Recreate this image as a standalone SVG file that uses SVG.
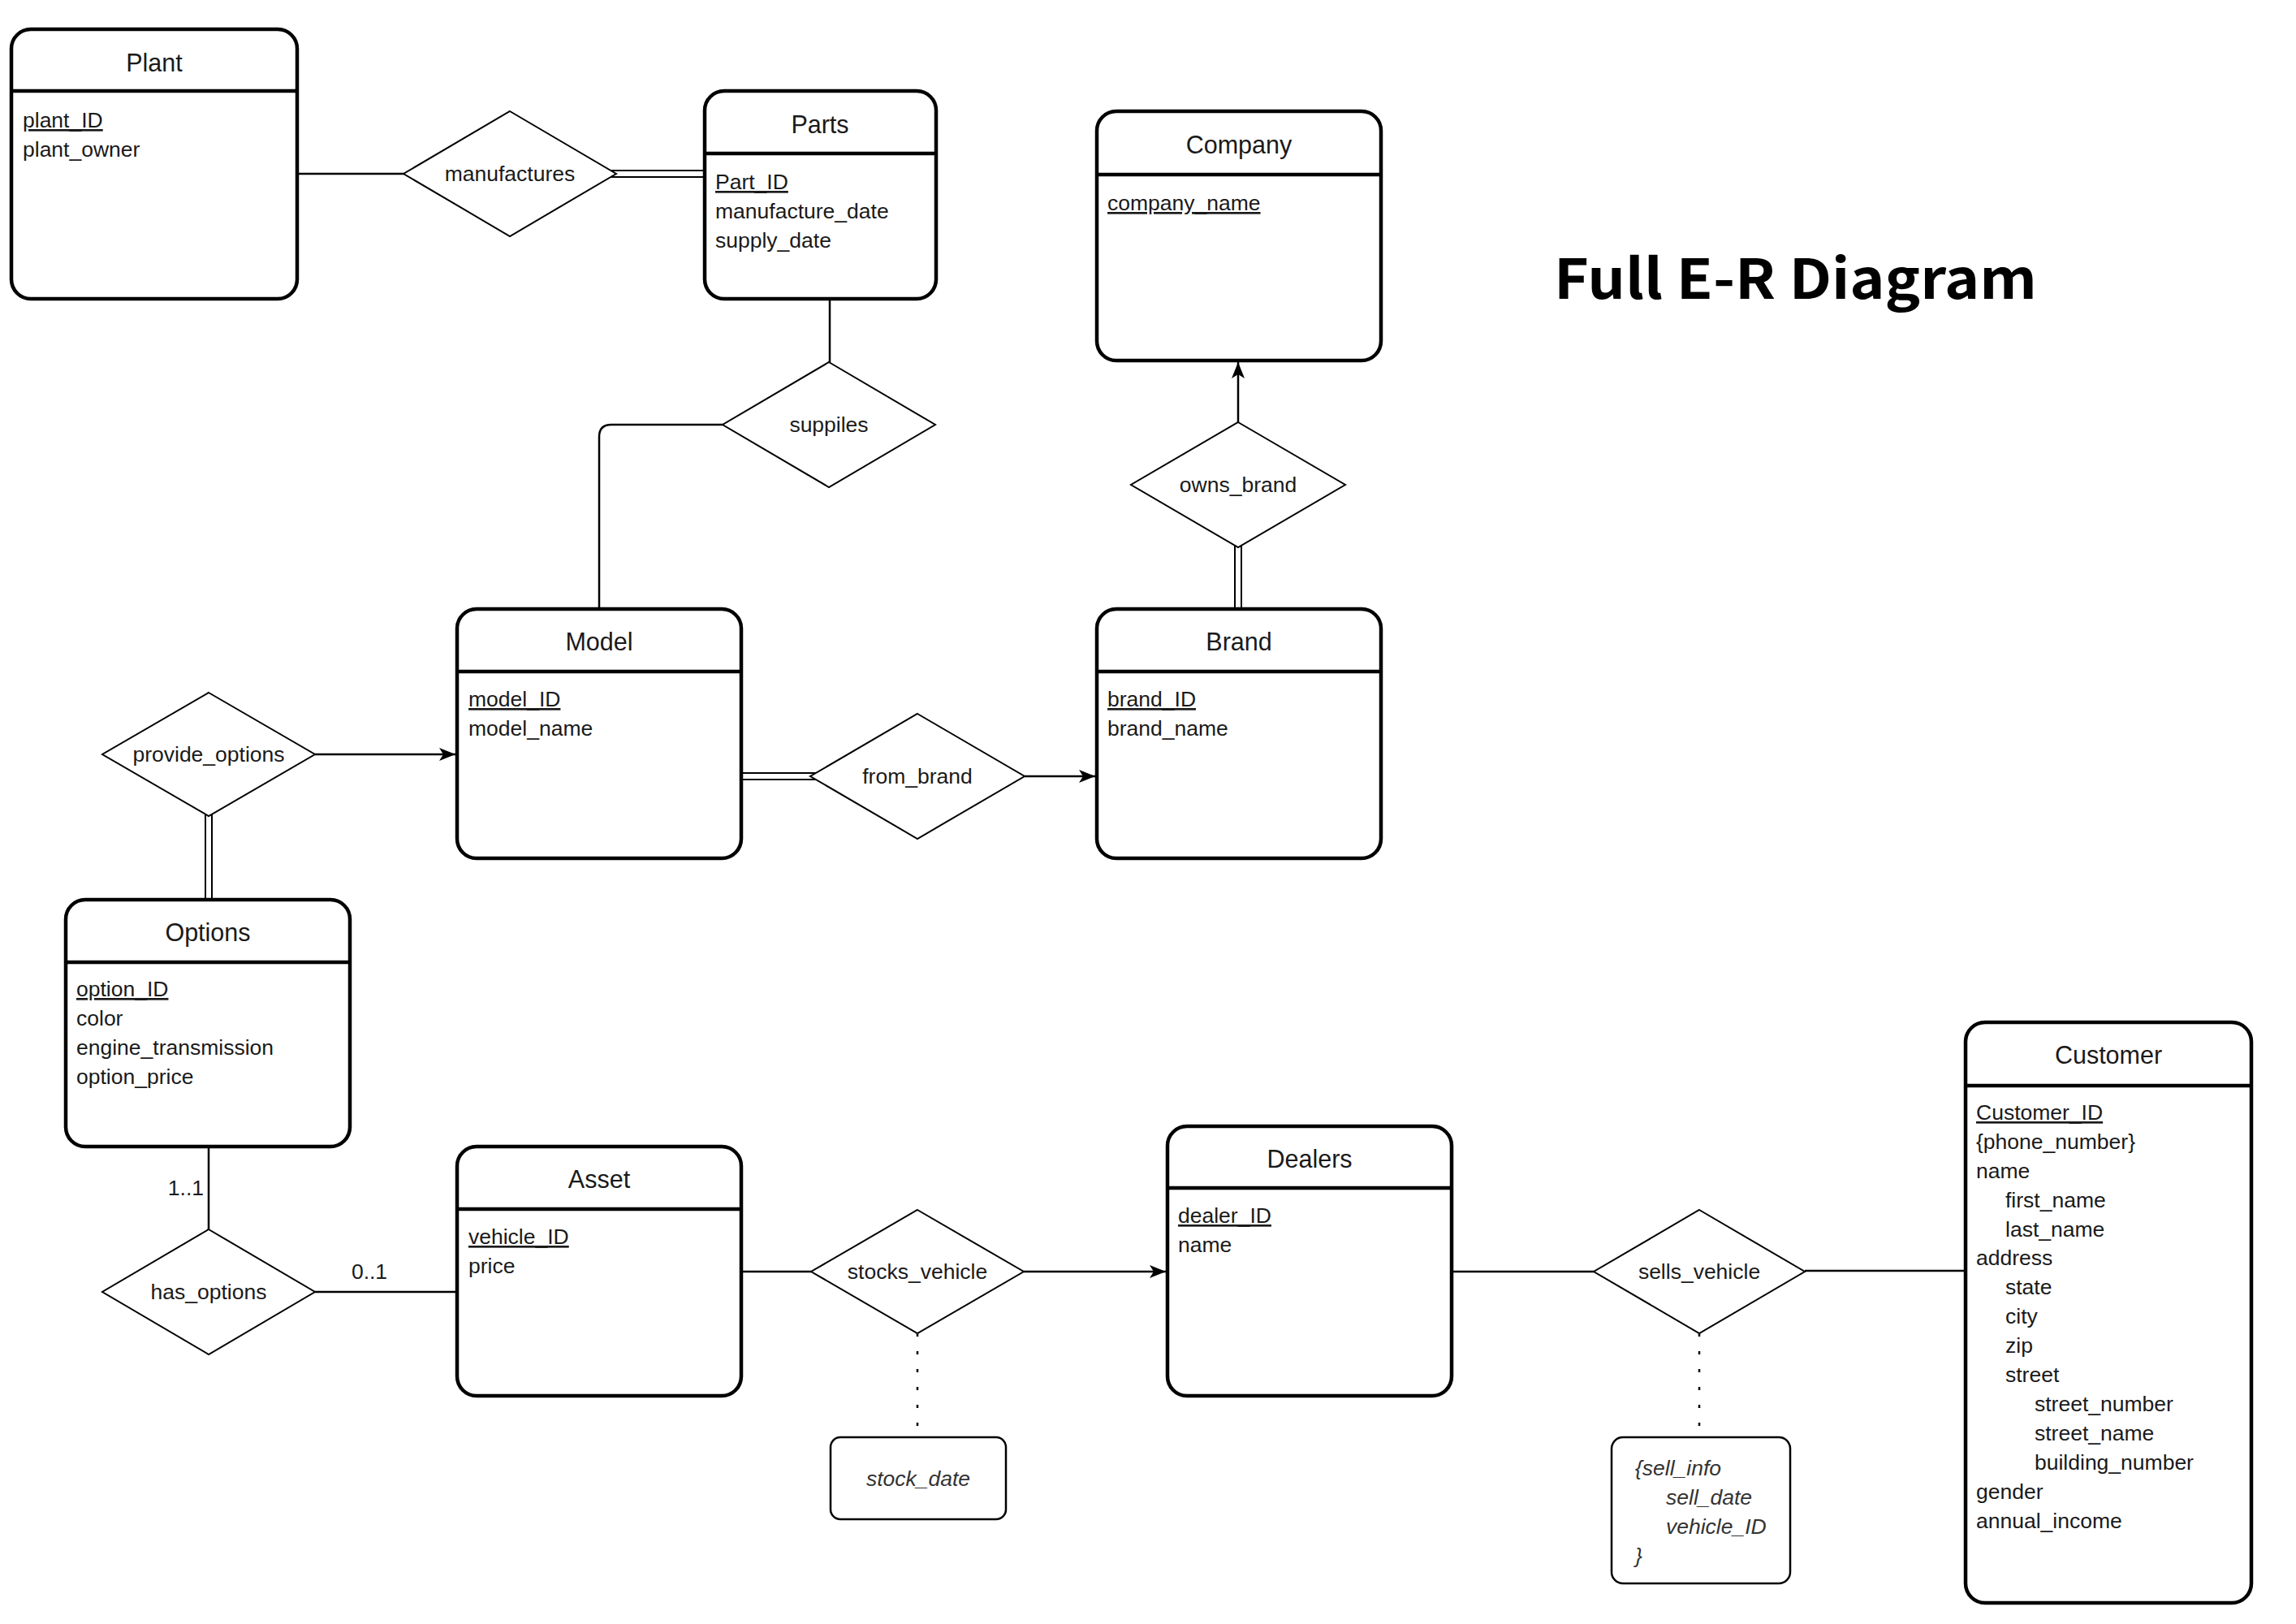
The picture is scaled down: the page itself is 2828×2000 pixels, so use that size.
<svg xmlns="http://www.w3.org/2000/svg" width="2828" height="2000" viewBox="0 0 2828 2000">
<style>
.box{fill:#fff;stroke:#000;stroke-width:4.5}
.dv{stroke:#000;stroke-width:4.5}
.rel{fill:#fff;stroke:#000;stroke-width:2}
.small{fill:#fff;stroke:#000;stroke-width:2.5}
.t{font-family:"Liberation Sans",Arial,sans-serif;font-size:30.5px;fill:#1a1a1a;text-anchor:middle}
.a{font-family:"Liberation Sans",Arial,sans-serif;font-size:26.5px;fill:#1a1a1a}
.pk{text-decoration:underline}
.m{text-anchor:middle}
.i{font-style:italic;fill:#333}
.c{stroke:#000;stroke-width:2.5;fill:none}
.d{stroke:#000;stroke-width:2;fill:none}
.dot{stroke:#000;stroke-width:2.5;fill:none;stroke-dasharray:4 18}
.ttl{font-family:"Noto Sans CJK KR","Noto Sans",sans-serif;font-weight:bold;font-size:68px;fill:#000}
</style>
<defs>
<marker id="arr" markerUnits="userSpaceOnUse" markerWidth="22" markerHeight="18" refX="20" refY="8" orient="auto">
<path d="M0,0 L20,8 L0,16 L5,8 z" fill="#000"/>
</marker>
</defs>
<rect width="2828" height="2000" fill="#fff"/>

<g id="connectors">
<line class="c" x1="366" y1="214" x2="497" y2="214"/>
<line class="d" x1="752" y1="210" x2="868" y2="210"/>
<line class="d" x1="752" y1="218" x2="868" y2="218"/>
<line class="c" x1="1022" y1="368" x2="1022" y2="446"/>
<path class="c" d="M890,523 L753,523 Q738,523 738,538 L738,750"/>
<line class="c" x1="1525" y1="520" x2="1525" y2="446" marker-end="url(#arr)"/>
<line class="d" x1="1521" y1="667" x2="1521" y2="750"/>
<line class="d" x1="1529" y1="667" x2="1529" y2="750"/>
<line class="c" x1="388" y1="929" x2="561" y2="929" marker-end="url(#arr)"/>
<line class="d" x1="253" y1="998" x2="253" y2="1108"/>
<line class="d" x1="261" y1="998" x2="261" y2="1108"/>
<line class="d" x1="913" y1="952" x2="1005" y2="952"/>
<line class="d" x1="913" y1="960" x2="1005" y2="960"/>
<line class="c" x1="1262" y1="956" x2="1349" y2="956" marker-end="url(#arr)"/>
<line class="c" x1="257" y1="1412" x2="257" y2="1514"/>
<text class="a" x="251" y="1472" text-anchor="end">1..1</text>
<line class="c" x1="388" y1="1591" x2="563" y2="1591"/>
<text class="a m" x="455" y="1575">0..1</text>
<line class="c" x1="913" y1="1566" x2="999" y2="1566"/>
<line class="c" x1="1261" y1="1566" x2="1436" y2="1566" marker-end="url(#arr)"/>
<line class="dot" x1="1130" y1="1642" x2="1130" y2="1770"/>
<line class="c" x1="1788" y1="1566" x2="1963" y2="1566"/>
<line class="c" x1="2223" y1="1565" x2="2421" y2="1565" stroke="#555"/>
<line class="dot" x1="2093" y1="1642" x2="2093" y2="1770"/>
</g>

<g id="plant">
<rect class="box" x="14" y="36" width="352" height="332" rx="24"/>
<line class="dv" x1="14" y1="112" x2="366" y2="112"/>
<text class="t" x="190" y="88">Plant</text>
<text class="a pk" x="28" y="157">plant_ID</text>
<text class="a" x="28" y="193">plant_owner</text>
</g>

<g id="parts">
<rect class="box" x="868" y="112" width="285" height="256" rx="24"/>
<line class="dv" x1="868" y1="189" x2="1153" y2="189"/>
<text class="t" x="1010" y="164">Parts</text>
<text class="a pk" x="881" y="233">Part_ID</text>
<text class="a" x="881" y="269">manufacture_date</text>
<text class="a" x="881" y="305">supply_date</text>
</g>

<g id="company">
<rect class="box" x="1351" y="137" width="350" height="307" rx="24"/>
<line class="dv" x1="1351" y1="215" x2="1701" y2="215"/>
<text class="t" x="1526" y="189">Company</text>
<text class="a pk" x="1364" y="259">company_name</text>
</g>

<g id="model">
<rect class="box" x="563" y="750" width="350" height="307" rx="24"/>
<line class="dv" x1="563" y1="827" x2="913" y2="827"/>
<text class="t" x="738" y="801">Model</text>
<text class="a pk" x="577" y="870">model_ID</text>
<text class="a" x="577" y="906">model_name</text>
</g>

<g id="brand">
<rect class="box" x="1351" y="750" width="350" height="307" rx="24"/>
<line class="dv" x1="1351" y1="827" x2="1701" y2="827"/>
<text class="t" x="1526" y="801">Brand</text>
<text class="a pk" x="1364" y="870">brand_ID</text>
<text class="a" x="1364" y="906">brand_name</text>
</g>

<g id="options">
<rect class="box" x="81" y="1108" width="350" height="304" rx="24"/>
<line class="dv" x1="81" y1="1185" x2="431" y2="1185"/>
<text class="t" x="256" y="1159">Options</text>
<text class="a pk" x="94" y="1227">option_ID</text>
<text class="a" x="94" y="1263">color</text>
<text class="a" x="94" y="1299">engine_transmission</text>
<text class="a" x="94" y="1335">option_price</text>
</g>

<g id="asset">
<rect class="box" x="563" y="1412" width="350" height="307" rx="24"/>
<line class="dv" x1="563" y1="1489" x2="913" y2="1489"/>
<text class="t" x="738" y="1463">Asset</text>
<text class="a pk" x="577" y="1532">vehicle_ID</text>
<text class="a" x="577" y="1568">price</text>
</g>

<g id="dealers">
<rect class="box" x="1438" y="1387" width="350" height="332" rx="24"/>
<line class="dv" x1="1438" y1="1463" x2="1788" y2="1463"/>
<text class="t" x="1613" y="1438">Dealers</text>
<text class="a pk" x="1451" y="1506">dealer_ID</text>
<text class="a" x="1451" y="1542">name</text>
</g>

<g id="customer">
<rect class="box" x="2421" y="1259" width="352" height="715" rx="24"/>
<line class="dv" x1="2421" y1="1337" x2="2773" y2="1337"/>
<text class="t" x="2597" y="1310">Customer</text>
<text class="a pk" x="2434" y="1379">Customer_ID</text>
<text class="a" x="2434" y="1415">{phone_number}</text>
<text class="a" x="2434" y="1451">name</text>
<text class="a" x="2470" y="1487">first_name</text>
<text class="a" x="2470" y="1523">last_name</text>
<text class="a" x="2434" y="1558">address</text>
<text class="a" x="2470" y="1594">state</text>
<text class="a" x="2470" y="1630">city</text>
<text class="a" x="2470" y="1666">zip</text>
<text class="a" x="2470" y="1702">street</text>
<text class="a" x="2506" y="1738">street_number</text>
<text class="a" x="2506" y="1774">street_name</text>
<text class="a" x="2506" y="1810">building_number</text>
<text class="a" x="2434" y="1846">gender</text>
<text class="a" x="2434" y="1882">annual_income</text>
</g>

<g id="manufactures">
<polygon class="rel" points="628,137 759,214 628,291 497,214"/>
<text class="a m" x="628" y="223">manufactures</text>
</g>
<g id="suppiles">
<polygon class="rel" points="1021,446 1152,523 1021,600 890,523"/>
<text class="a m" x="1021" y="532">suppiles</text>
</g>
<g id="owns_brand">
<polygon class="rel" points="1525,520 1657,597 1525,674 1393,597"/>
<text class="a m" x="1525" y="606">owns_brand</text>
</g>
<g id="provide_options">
<polygon class="rel" points="257,853 388,929 257,1005 126,929"/>
<text class="a m" x="257" y="938">provide_options</text>
</g>
<g id="from_brand">
<polygon class="rel" points="1130,879 1262,956 1130,1033 998,956"/>
<text class="a m" x="1130" y="965">from_brand</text>
</g>
<g id="has_options">
<polygon class="rel" points="257,1514 388,1591 257,1668 126,1591"/>
<text class="a m" x="257" y="1600">has_options</text>
</g>
<g id="stocks_vehicle">
<polygon class="rel" points="1130,1490 1261,1566 1130,1642 999,1566"/>
<text class="a m" x="1130" y="1575">stocks_vehicle</text>
</g>
<g id="sells_vehicle">
<polygon class="rel" points="2093,1490 2223,1566 2093,1642 1963,1566"/>
<text class="a m" x="2093" y="1575">sells_vehicle</text>
</g>

<g id="stock_date">
<rect class="small" x="1023" y="1770" width="216" height="101" rx="12"/>
<text class="a m i" x="1131" y="1830">stock_date</text>
</g>

<g id="sell_info">
<rect class="small" x="1985" y="1770" width="220" height="180" rx="14"/>
<text class="a i" x="2014" y="1817">{sell_info</text>
<text class="a i" x="2052" y="1853">sell_date</text>
<text class="a i" x="2052" y="1889">vehicle_ID</text>
<text class="a i" x="2014" y="1925">}</text>
</g>

<g id="title">
<text class="ttl" x="1914" y="368" textLength="595" lengthAdjust="spacingAndGlyphs">Full E-R Diagram</text>
</g>
</svg>
